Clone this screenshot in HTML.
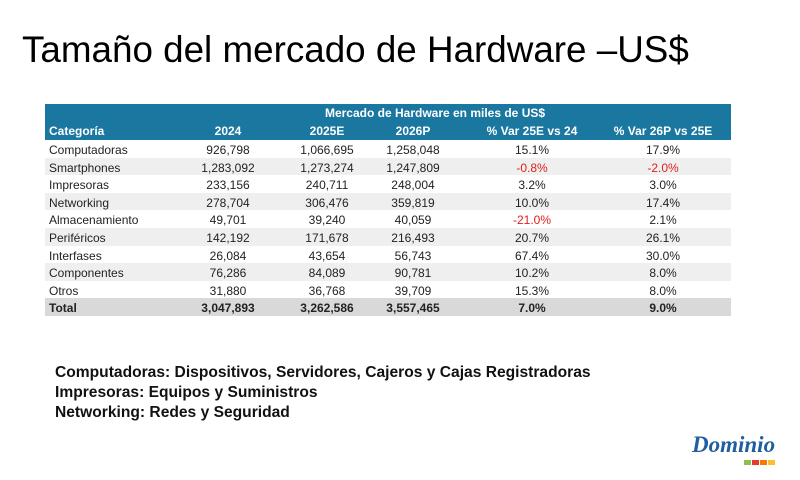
<!DOCTYPE html>
<html><head><meta charset="utf-8"><style>
body{margin:0;width:800px;height:480px;background:#fff;position:relative;overflow:hidden;font-family:"Liberation Sans",sans-serif;}
.t{position:absolute;left:22px;top:29px;font-size:36.8px;color:#000;white-space:nowrap;}
.tb{position:absolute;left:45px;top:104px;width:686px;}
.r{position:absolute;left:0;width:686px;height:17.6px;font-size:12px;color:#222;}
.r span{position:absolute;top:3px;white-space:nowrap;transform:translateX(-50%);}
.r span.c{transform:none;left:4px;}
.h{background:#1a77a0;color:#fff;font-weight:bold;}
.g{background:#efefef;}
.tot{background:#d9d9d9;font-weight:bold;}
.red{color:#e02020;}
.f{position:absolute;left:55px;font-size:15.6px;font-weight:bold;color:#111;white-space:nowrap;}
</style></head><body>
<div class="t">Tamaño del mercado de Hardware –US$</div>
<div class="tb">
<div class="r h" style="top:0;height:17px"><span style="left:390px;top:2px">Mercado de Hardware en miles de US$</span></div>
<div class="r h" style="top:17px;height:19px"><span class="c">Categoría</span><span style="left:183px">2024</span><span style="left:282px">2025E</span><span style="left:368px">2026P</span><span style="left:487px">% Var 25E vs 24</span><span style="left:618px">% Var 26P vs 25E</span></div>
<div class="r" style="top:36px"><span class="c">Computadoras</span><span style="left:183px">926,798</span><span style="left:282px">1,066,695</span><span style="left:368px">1,258,048</span><span style="left:487px">15.1%</span><span style="left:618px">17.9%</span></div>
<div class="r g" style="top:53.6px"><span class="c">Smartphones</span><span style="left:183px">1,283,092</span><span style="left:282px">1,273,274</span><span style="left:368px">1,247,809</span><span class="red" style="left:487px">-0.8%</span><span class="red" style="left:618px">-2.0%</span></div>
<div class="r" style="top:71.2px"><span class="c">Impresoras</span><span style="left:183px">233,156</span><span style="left:282px">240,711</span><span style="left:368px">248,004</span><span style="left:487px">3.2%</span><span style="left:618px">3.0%</span></div>
<div class="r g" style="top:88.8px"><span class="c">Networking</span><span style="left:183px">278,704</span><span style="left:282px">306,476</span><span style="left:368px">359,819</span><span style="left:487px">10.0%</span><span style="left:618px">17.4%</span></div>
<div class="r" style="top:106.4px"><span class="c">Almacenamiento</span><span style="left:183px">49,701</span><span style="left:282px">39,240</span><span style="left:368px">40,059</span><span class="red" style="left:487px">-21.0%</span><span style="left:618px">2.1%</span></div>
<div class="r g" style="top:124px"><span class="c">Periféricos</span><span style="left:183px">142,192</span><span style="left:282px">171,678</span><span style="left:368px">216,493</span><span style="left:487px">20.7%</span><span style="left:618px">26.1%</span></div>
<div class="r" style="top:141.6px"><span class="c">Interfases</span><span style="left:183px">26,084</span><span style="left:282px">43,654</span><span style="left:368px">56,743</span><span style="left:487px">67.4%</span><span style="left:618px">30.0%</span></div>
<div class="r g" style="top:159.2px"><span class="c">Componentes</span><span style="left:183px">76,286</span><span style="left:282px">84,089</span><span style="left:368px">90,781</span><span style="left:487px">10.2%</span><span style="left:618px">8.0%</span></div>
<div class="r" style="top:176.8px"><span class="c">Otros</span><span style="left:183px">31,880</span><span style="left:282px">36,768</span><span style="left:368px">39,709</span><span style="left:487px">15.3%</span><span style="left:618px">8.0%</span></div>
<div class="r tot" style="top:194.4px"><span class="c">Total</span><span style="left:183px">3,047,893</span><span style="left:282px">3,262,586</span><span style="left:368px">3,557,465</span><span style="left:487px">7.0%</span><span style="left:618px">9.0%</span></div>
</div>
<div class="f" style="top:364px">Computadoras: Dispositivos, Servidores, Cajeros y Cajas Registradoras</div>
<div class="f" style="top:384px">Impresoras: Equipos y Suministros</div>
<div class="f" style="top:404px">Networking: Redes y Seguridad</div>
<div style="position:absolute;left:692px;top:432px;font-family:'Liberation Serif',serif;font-style:italic;font-weight:bold;font-size:23px;color:#1f5fa0;">Dominio</div>
<div style="position:absolute;left:744px;top:460px;width:7px;height:5px;background:#8bc34a"></div>
<div style="position:absolute;left:752px;top:460px;width:7px;height:5px;background:#e53935"></div>
<div style="position:absolute;left:760px;top:460px;width:7px;height:5px;background:#f57c00"></div>
<div style="position:absolute;left:768px;top:460px;width:7px;height:5px;background:#fbc02d"></div>
</body></html>
